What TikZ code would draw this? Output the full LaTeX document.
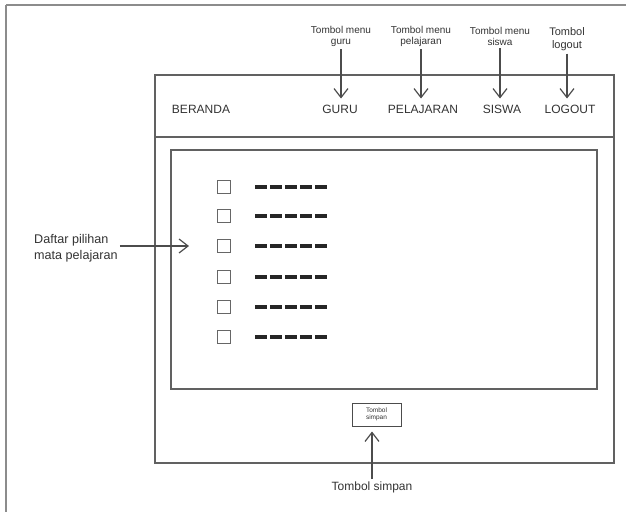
\documentclass[tikz,border=0pt]{standalone}
\usepackage{fontspec}
\setmainfont{Liberation Sans}
\usetikzlibrary{arrows.meta}

\begin{document}
\begin{tikzpicture}[x=1pt,y=-1pt,
  frame/.style={draw=black!45, line width=1.6pt},
  box/.style={draw=black!62, line width=1.2pt},
  menu/.style={font=\fontsize{12}{14}\selectfont, text=black!80, inner sep=2pt, text height=8.6pt, text depth=0pt},
  note/.style={font=\fontsize{10}{11}\selectfont, align=center, text=black!80, inner sep=3pt},
  arr/.style={draw=black!70, line width=1.2pt, -{Straight Barb[length=9pt,width=14pt,line width=1.2pt]}},
  chk/.style={draw=black!60, line width=1.1pt, minimum size=13pt, inner sep=0pt},
  placeholder/.style={draw=black!85, line width=3.2pt, dash pattern=on 12pt off 3pt},
  btnbox/.style={draw=black!70, line width=1pt, minimum width=49pt, minimum height=23pt, inner sep=0pt,
    align=center, font=\fontsize{6.5}{7.5}\selectfont, text=black!80},
]
\useasboundingbox (0,0) rectangle (626,512);

% page frame (open to the right and bottom)
\draw[frame] (6,5) -- (626,5);
\draw[frame] (6,5) -- (6,512);

% window, header bar and content panel
\draw[box] (155,75) rectangle (614,463);
\draw[box] (155,137) -- (614,137);
\draw[box] (171,150) rectangle (597,389);

% menu items
\node[menu] (beranda) at (201,109) {BERANDA};
\node[menu] (guru)    at (340,109) {GURU};
\node[menu] (pel)     at (423,109) {PELAJARAN};
\node[menu] (siswa)   at (502,109) {SISWA};
\node[menu] (logout)  at (570,109) {LOGOUT};

% annotations above the menu
\node[note] (lguru)   at (341,36) {Tombol menu\\guru};
\node[note] (lpel)    at (421,36) {Tombol menu\\pelajaran};
\node[note] (lsiswa)  at (500,36) {Tombol menu\\siswa};
\node[note, font=\fontsize{11}{12.5}\selectfont] (llogout) at (567,39) {Tombol\\logout};

\draw[arr, shorten >=4pt] (lguru.south)   -- (lguru.south |- guru.north);
\draw[arr, shorten >=4pt] (lpel.south)    -- (lpel.south |- pel.north);
\draw[arr, shorten >=4pt] (lsiswa.south)  -- (lsiswa.south |- siswa.north);
\draw[arr, shorten >=4pt] (llogout.south) -- (llogout.south |- logout.north);

% list of subjects: checkbox + placeholder text
\foreach \i/\yy in {1/187, 2/216, 3/246, 4/277, 5/307, 6/337} {
  \node[chk] (c\i) at (224,\yy) {};
  \draw[placeholder] ([xshift=31pt]c\i.center) -- ++(72,0);
}

% annotation of the list
\node[anchor=west, align=left, font=\fontsize{12.6}{16}\selectfont, text=black!80, inner sep=2pt]
  (ldaftar) at (32,248) {Daftar pilihan\\mata pelajaran};
\coordinate (listtip) at (189,246);
\draw[arr] (ldaftar.east |- listtip) -- (listtip);

% save button and its annotation
\node[btnbox] (btn) at (376.5,414.5) {Tombol\\simpan};
\node[font=\fontsize{12}{14}\selectfont, text=black!80, inner sep=2pt] (lsimpan) at (372,487) {Tombol simpan};
\draw[arr, shorten >=5pt] (lsimpan.north) -- (lsimpan.north |- btn.south);
\end{tikzpicture}
\end{document}
